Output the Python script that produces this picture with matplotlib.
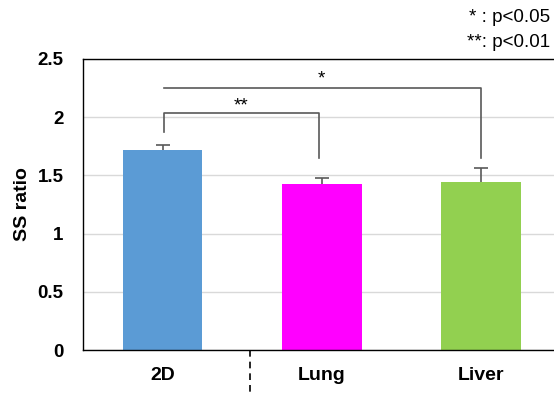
import numpy as np
import matplotlib.pyplot as plt

categories = ['2D', 'Lung', 'Liver']
ss_ratio = [1.72, 1.43, 1.44]
err_up = [0.045, 0.05, 0.125]
colors = ['#5B9BD5', '#FF00FF', '#92D050']

plt.rcParams['font.family'] = ['Liberation Sans', 'DejaVu Sans']

fig = plt.figure(figsize=(5.54, 3.93), dpi=100)
ax = fig.add_axes([0.1498, 0.1094, 0.862, 0.7406])

x = np.arange(len(categories))
ax.bar(x, ss_ratio, width=0.5, color=colors, zorder=2)
eb = ax.errorbar(x, ss_ratio, yerr=[np.zeros(3), err_up], fmt='none',
                 ecolor='#595959', elinewidth=1.2, capsize=5, capthick=1.2, zorder=3)
# only the upper cap, like Excel "plus" error bars
eb[1][0].set_visible(False)

ax.set_xlim(-0.5, 2.5)
ax.set_ylim(0, 2.5)
ax.set_yticks([0, 0.5, 1, 1.5, 2, 2.5])
ax.set_yticklabels(['0', '0.5', '1', '1.5', '2', '2.5'], fontsize=13.5, fontweight='bold')
ax.set_xticks(x)
ax.set_xticklabels(categories, fontsize=14, fontweight='bold')
ax.tick_params(axis='y', length=0, pad=14)
ax.tick_params(axis='x', length=0, pad=12)
ax.yaxis.grid(True, color='#D9D9D9', linewidth=1, zorder=0)
ax.set_axisbelow(True)
for s in ['left', 'bottom', 'top']:
    ax.spines[s].set_linewidth(1.0)
ax.spines['right'].set_visible(False)
ax.set_ylabel('SS ratio', fontsize=14, fontweight='bold', labelpad=5)

# significance brackets
bc = '#595959'
ax.plot([0.01, 0.01, 0.98, 0.98], [1.87, 2.036, 2.036, 1.65], color=bc, lw=1.2)
ax.plot([0.01, 2.0, 2.0], [2.25, 2.25, 1.65], color=bc, lw=1.2)
ax.text(0.49, 2.1, '**', ha='center', va='center', fontsize=13.5)
ax.text(1.0, 2.33, '*', ha='center', va='center', fontsize=13.5)

# dashed separator below axis
ax.plot([0.547, 0.547], [0, -0.37], color='black', lw=1.2, ls=(0, (4, 3)), clip_on=False)

fig.text(0.993, 0.955, '* : p<0.05', ha='right', va='center', fontsize=13.5)
fig.text(0.993, 0.893, '**: p<0.01', ha='right', va='center', fontsize=13.5)

fig.savefig('out.png', dpi=100)
